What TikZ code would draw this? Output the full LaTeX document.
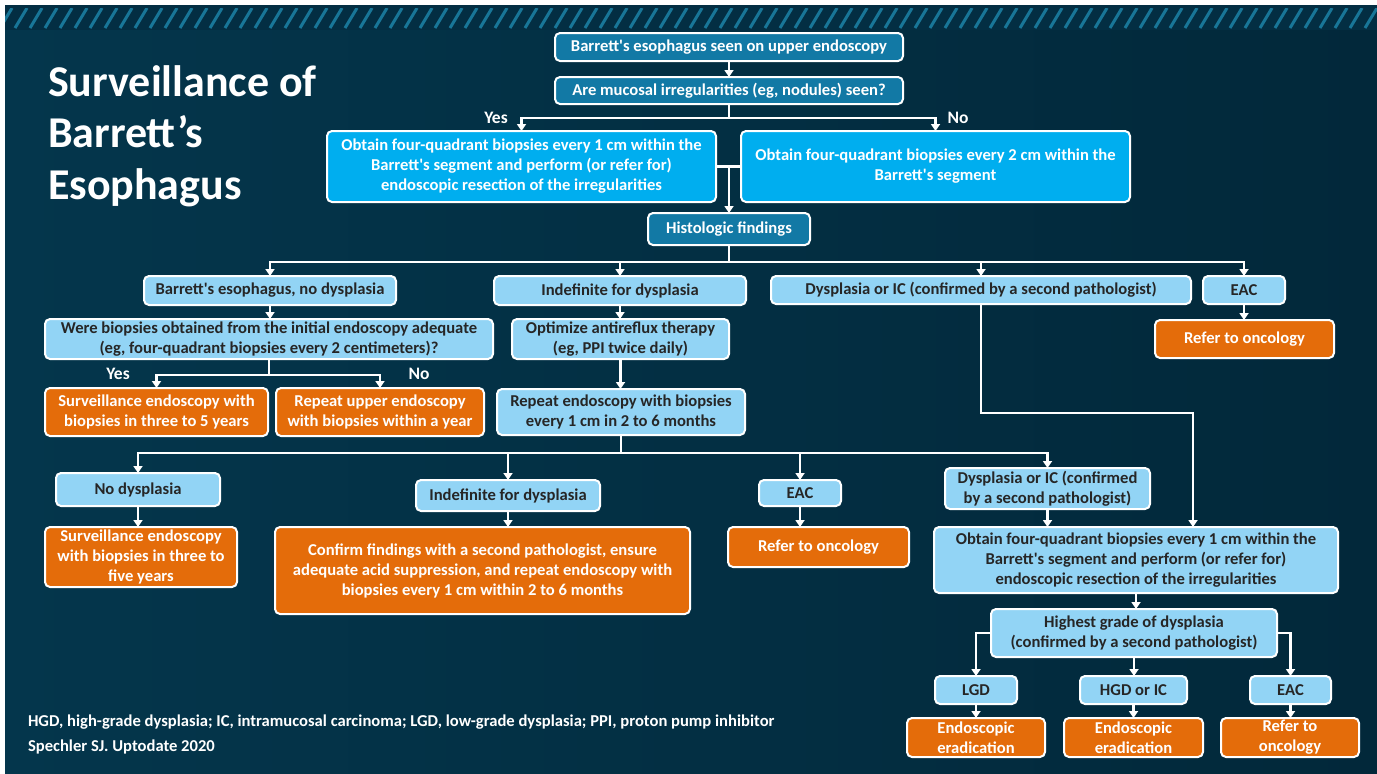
\documentclass[tikz,border=0pt]{standalone}
\usepackage{fontspec}
\setmainfont{Carlito}
\usetikzlibrary{arrows.meta}
\definecolor{bgleft}{RGB}{4,54,76}
\definecolor{bgmid}{RGB}{3,70,95}
\definecolor{bgright}{RGB}{2,40,58}
\definecolor{bandbg}{RGB}{3,46,67}
\definecolor{stripeblue}{RGB}{24,118,152}
\definecolor{boxteal}{RGB}{18,121,165}
\definecolor{boxcyan}{RGB}{0,174,239}
\definecolor{boxlight}{RGB}{146,212,245}
\definecolor{boxorange}{RGB}{228,108,10}
\definecolor{boxtext}{RGB}{38,38,38}

\begin{document}
\begin{tikzpicture}[x=1pt, y=1pt, yscale=-1, inner sep=1pt, outer sep=0pt,
  box/.style={draw=white, line width=2pt, rounded corners=5pt, align=center,
    font=\bfseries\fontsize{16.6}{20}\selectfont},
  darkbox/.style={box, fill=boxteal, text=white},
  cyanbox/.style={box, fill=boxcyan, text=white},
  lightbox/.style={box, fill=boxlight, text=boxtext},
  orangebox/.style={box, fill=boxorange, text=white},
  link/.style={draw=white, line width=2.4pt},
  arr/.style={link, -{Triangle[width=9pt,length=7pt]}},
  branch/.style={text=white, font=\bfseries\fontsize{17.5}{19}\selectfont},
  stripe/.style={draw=stripeblue, line width=3pt}]
\useasboundingbox (0,0) rectangle (1377,774);
% slide background
\fill[white] (0,0) rectangle (1377,774);
\shade[left color=bgleft, middle color=bgmid, right color=bgright] (5,5) rectangle (1377,774);
\fill[bandbg] (5,5) rectangle (1377,30);
\begin{scope}
  \clip (5,8) rectangle (1377,28);
  \foreach \i in {0,...,93}
    \draw[stripe] (\i*15,28) -- ++(12,-20);
\end{scope}

% title and notes
\node[anchor=base west, align=left, text=white,
  font=\bfseries\fontsize{44}{51.5}\selectfont] (title) at (47,199)
  {Surveillance of\\Barrett’s\\Esophagus};
\node[anchor=base west, align=left, text=white,
  font=\bfseries\fontsize{16.6}{24.5}\selectfont] (notes) at (27,751)
  {HGD, high-grade dysplasia; IC, intramucosal carcinoma; LGD, low-grade dysplasia; PPI, proton pump inhibitor\\
   Spechler SJ. Uptodate 2020};

% top of the chart
\node[darkbox, minimum width=348pt, minimum height=28pt] (seen) at (729,47)
  {Barrett\textquotesingle s esophagus seen on upper endoscopy};
\node[darkbox, minimum width=348pt, minimum height=27pt] (mucosal) at (729,90.5)
  {Are mucosal irregularities (eg, nodules) seen?};
\node[cyanbox, minimum width=389pt, minimum height=71pt] (quadA) at (521.5,166.5)
  {Obtain four-quadrant biopsies every 1 cm within the\\Barrett\textquotesingle s segment and perform (or refer for)\\endoscopic resection of the irregularities};
\node[cyanbox, minimum width=389pt, minimum height=71pt] (quadB) at (935.5,166.5)
  {Obtain four-quadrant biopsies every 2 cm within the\\Barrett\textquotesingle s segment};
\node[branch] (yesA) at (496,118) {Yes};
\node[branch] (noA) at (958,118) {No};
\node[darkbox, minimum width=162pt, minimum height=32pt] (histo) at (729,229)
  {Histologic findings};

% histologic findings
\node[lightbox, minimum width=252pt, minimum height=29pt] (bnd) at (270,290.5)
  {Barrett\textquotesingle s esophagus, no dysplasia};
\node[lightbox, minimum width=252pt, minimum height=29pt] (indefA) at (620,290.5)
  {Indefinite for dysplasia};
\node[lightbox, minimum width=420pt, minimum height=28pt] (dysA) at (981,290)
  {Dysplasia or IC (confirmed by a second pathologist)};
\node[lightbox, minimum width=82pt, minimum height=28pt] (eacA) at (1244,290)
  {EAC};
\node[orangebox, minimum width=179pt, minimum height=38pt] (referA) at (1244.5,339)
  {Refer to oncology};

% no dysplasia branch
\node[lightbox, minimum width=448pt, minimum height=40pt] (adequate) at (269,339)
  {Were biopsies obtained from the initial endoscopy adequate\\(eg, four-quadrant biopsies every 2 centimeters)?};
\node[branch] (yesB) at (118,374) {Yes};
\node[branch] (noB) at (419,374) {No};
\node[orangebox, minimum width=223pt, minimum height=48pt] (survA) at (156.5,412)
  {Surveillance endoscopy with\\biopsies in three to 5 years};
\node[orangebox, minimum width=208pt, minimum height=48pt] (repeatA) at (380,412)
  {Repeat upper endoscopy\\with biopsies within a year};

% indefinite branch
\node[lightbox, minimum width=217pt, minimum height=40pt] (optimize) at (620.5,339)
  {Optimize antireflux therapy\\(eg, PPI twice daily)};
\node[lightbox, minimum width=248pt, minimum height=46pt] (repeatB) at (621,412)
  {Repeat endoscopy with biopsies\\every 1 cm in 2 to 6 months};
\node[lightbox, minimum width=164pt, minimum height=33pt] (nodys) at (138,489.5)
  {No dysplasia};
\node[lightbox, minimum width=184pt, minimum height=31pt] (indefB) at (508,495.5)
  {Indefinite for dysplasia};
\node[lightbox, minimum width=82pt, minimum height=26pt] (eacB) at (800,493)
  {EAC};
\node[lightbox, minimum width=205pt, minimum height=41pt] (dysB) at (1047.5,488.5)
  {Dysplasia or IC (confirmed\\by a second pathologist)};
\node[orangebox, minimum width=192pt, minimum height=60pt] (survB) at (141,557)
  {Surveillance endoscopy\\with biopsies in three to\\five years};
\node[orangebox, minimum width=415pt, minimum height=87pt] (confirm) at (482.5,570.5)
  {Confirm findings with a second pathologist, ensure\\adequate acid suppression, and repeat endoscopy with\\biopsies every 1 cm within 2 to 6 months};
\node[orangebox, minimum width=181pt, minimum height=40pt] (referB) at (818.5,547)
  {Refer to oncology};

% dysplasia branch
\node[lightbox, minimum width=404pt, minimum height=66pt] (quadC) at (1136,560)
  {Obtain four-quadrant biopsies every 1 cm within the\\Barrett\textquotesingle s segment and perform (or refer for)\\endoscopic resection of the irregularities};
\node[lightbox, minimum width=286pt, minimum height=48pt] (highest) at (1134,633)
  {Highest grade of dysplasia\\(confirmed by a second pathologist)};
\node[lightbox, minimum width=82pt, minimum height=28pt] (lgd) at (976,690)
  {LGD};
\node[lightbox, minimum width=107pt, minimum height=28pt] (hgd) at (1133.5,690)
  {HGD or IC};
\node[lightbox, minimum width=81pt, minimum height=28pt] (eacC) at (1290.5,690)
  {EAC};
\node[orangebox, minimum width=138pt, minimum height=39pt] (eradA) at (976,737.5)
  {Endoscopic\\eradication};
\node[orangebox, minimum width=139pt, minimum height=39pt] (eradB) at (1133.5,737.5)
  {Endoscopic\\eradication};
\node[orangebox, minimum width=138pt, minimum height=39pt] (referC) at (1290,737.5)
  {Refer to\\oncology};

% connectors
\draw[arr] (seen) -- (mucosal);
\draw[arr] (mucosal.south) -- ++(0,14) -| (quadA.north);
\draw[arr] (mucosal.south) -- ++(0,14) -| (quadB.north);
\draw[link] (quadA.east) -- (quadB.west);
\draw[arr] (histo.north |- quadA.east) -- (histo.north);
\draw[arr] (histo.south) -- ++(0,17) -| (bnd.north);
\draw[arr] (histo.south) -- ++(0,17) -| (indefA.north);
\draw[arr] (histo.south) -- ++(0,17) -| (dysA.north);
\draw[arr] (histo.south) -- ++(0,17) -| (eacA.north);
\draw[arr] (eacA.south) -- (eacA.south |- referA.north);
\draw[arr] (bnd.south) -- (bnd.south |- adequate.north);
\draw[arr] (adequate.south) -- ++(0,16) -| (survA.north);
\draw[arr] (adequate.south) -- ++(0,16) -| (repeatA.north);
\draw[arr] (indefA.south) -- (indefA.south |- optimize.north);
\draw[arr] (optimize.south) -- (optimize.south |- repeatB.north);
\draw[arr] (repeatB.south) -- ++(0,18) -| (nodys.north);
\draw[arr] (repeatB.south) -- ++(0,18) -| (indefB.north);
\draw[arr] (repeatB.south) -- ++(0,18) -| (eacB.north);
\draw[arr] (repeatB.south) -- ++(0,18) -| (dysB.north);
\draw[arr] (nodys.south) -- (nodys.south |- survB.north);
\draw[arr] (indefB.south) -- (indefB.south |- confirm.north);
\draw[arr] (eacB.south) -- (eacB.south |- referB.north);
\draw[arr] (dysB.south) -- (dysB.south |- quadC.north);
\coordinate (detour) at (1193,413);
\draw[arr] (dysA.south) |- (detour) -- (detour |- quadC.north);
\draw[arr] (quadC.south) -- (quadC.south |- highest.north);
\draw[arr] (highest.west) -| (lgd.north);
\draw[arr] (highest.south) -- (highest.south |- hgd.north);
\draw[arr] (highest.east) -| (eacC.north);
\draw[arr] (lgd.south) -- (lgd.south |- eradA.north);
\draw[arr] (hgd.south) -- (hgd.south |- eradB.north);
\draw[arr] (eacC.south) -- (eacC.south |- referC.north);
\end{tikzpicture}
\end{document}
